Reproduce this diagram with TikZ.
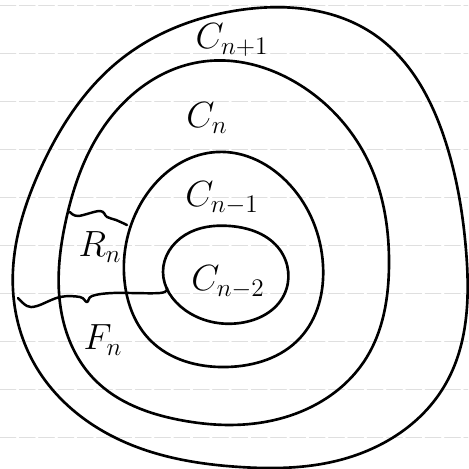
\documentclass[tikz,border=0pt]{standalone}
\usepackage{amsmath}
\usepackage{tikz}
\usetikzlibrary{positioning,hobby}
\tikzset{
  every picture/.style={line join=round, line cap=round},
  ring/.style={line width=1.5pt, use Hobby shortcut, closed=true},
  cut/.style={line width=1.4pt},
  rule/.style={gray!25, line width=0.5pt, dash pattern=on 9pt off 2pt},
  lbl/.style={font=\huge, inner sep=1pt},
}
\begin{document}
\begin{tikzpicture}[x=0.02cm, y=-0.02cm]
    \useasboundingbox (0,0) rectangle (468,469);

    % ruled lines of the paper
    \foreach \y in {5,53,...,437} {
        \draw[rule] (0,\y) -- (468,\y);
    }

    % C_{n+1}
    \draw[ring] (240,10) .. (375,35) .. (445,140) .. (466,250) .. (445,385)
        .. (340,460) .. (240,467) .. (120,440) .. (35,365) .. (13,290)
        .. (40,170) .. (120,60);

    % C_n
    \draw[ring] (200,62) .. (300,85) .. (370,165) .. (389,265) .. (365,360)
        .. (270,421) .. (180,420) .. (95,380) .. (63,320) .. (66,220)
        .. (105,125);

    % C_{n-1}
    \draw[ring] (217,152) .. (290,185) .. (323,265) .. (300,338) .. (227,367)
        .. (150,340) .. (125,285) .. (140,205);

    % C_{n-2}
    \draw[ring] (230,226) .. (280,250) .. (284,295) .. (240,323) .. (185,310)
        .. (163,272) .. (185,235);

    % wavy cuts
    \draw[cut] plot[smooth, tension=0.6] coordinates {
        (70,212) (78,216) (100,211) (107,217) (116,220) (127,225)};
    \draw[cut] plot[smooth, tension=0.6] coordinates {
        (18,298) (27,306) (37,306) (60,297) (80,297) (87,302) (92,296)
        (113,293) (160,293) (167,288)};

    % labels
    \node[lbl] (cn1) at (232,40)  {$C_{n+1}$};
    \node[lbl] (cn)  at (207,118) {$C_{n}$};
    \node[lbl] (cm1) at (222,198) {$C_{n-1}$};
    \node[lbl] (cm2) at (228,282) {$C_{n-2}$};
    \node[lbl] (rn)  at (100,247) {$R_{n}$};
    \node[lbl] (fn)  at (103,340) {$F_{n}$};
\end{tikzpicture}
\end{document}
